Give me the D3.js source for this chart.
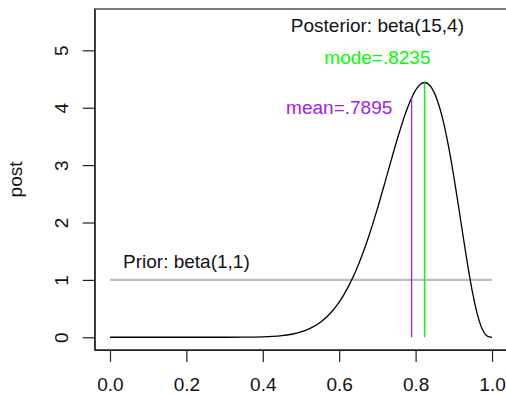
<!DOCTYPE html>
<html>
<head>
<meta charset="utf-8">
<script src="https://cdn.jsdelivr.net/npm/d3@7"></script>
<style>
  body { margin: 0; background: #fff; }
  svg { display: block; font-family: "Liberation Sans", Arial, sans-serif; }
</style>
</head>
<body>
<svg></svg>
<script>
// values
let thetaVals = [0, 0.1, 0.2, 0.3, 0.35, 0.4, 0.425, 0.45, 0.475, 0.5, 0.525, 0.55, 0.575, 0.6, 0.625, 0.65, 0.675,
    0.7, 0.725, 0.75, 0.775, 0.8, 0.8125, 0.8235, 0.8375, 0.85, 0.8625, 0.875, 0.8875, 0.9, 0.9125, 0.925,
    0.9375, 0.95, 0.9625, 0.975, 0.9875, 1.0];
let postVals = [0, 0, 0, 0.0002, 0.0014, 0.0071, 0.0146, 0.0285, 0.0528, 0.0934, 0.1584, 0.2585, 0.4056, 0.6138, 0.8958, 1.2614, 1.7129,
    2.2414, 2.822, 3.4077, 3.9307, 4.3065, 4.4094, 4.439, 4.387, 4.2454, 4.0121, 3.6871, 3.2781, 2.8001, 2.2754, 1.7336,
    1.2107, 0.7461, 0.378, 0.1342, 0.0201, 0];
let priorX = [0, 1];
let priorVals = [1, 1];
let meanVal = 0.7895, meanDens = 4.176;
let modeVal = 0.8235, modeDens = 4.439;
let xTicks = [0, 0.2, 0.4, 0.6, 0.8, 1.0];
let yTicks = [0, 1, 2, 3, 4, 5];

let width = 506;
let height = 394;
let fontSize = 19;

let svg = d3.select("svg").attr("width", width).attr("height", height);

// R style 4% extended limits
let xScale = d3.scaleLinear().domain([-0.04, 1.04]).range([94.7, 507.3]);
let yScale = d3.scaleLinear().domain([-0.22, 5.72]).range([349.9, 9]);

// box (right edge falls outside the window)
svg.append("rect")
    .attr("x", xScale(-0.04))
    .attr("y", yScale(5.72))
    .attr("width", xScale(1.04) - xScale(-0.04))
    .attr("height", yScale(-0.22) - yScale(5.72))
    .attr("fill", "none")
    .attr("stroke", "#222")
    .attr("stroke-width", 1.2);

let xAxis = d3.axisBottom(xScale).tickValues(xTicks).tickSize(12).tickSizeOuter(0)
    .tickFormat(d3.format(".1f"));
let yAxis = d3.axisLeft(yScale).tickValues(yTicks).tickSize(12).tickSizeOuter(0)
    .tickFormat(d3.format("d"));

let gx = svg.append("g")
    .attr("transform", "translate(0," + yScale(-0.22) + ")")
    .call(xAxis);
gx.selectAll("line").attr("stroke", "#222").attr("stroke-width", 1.2);
gx.select(".domain").attr("stroke", "#222").attr("stroke-width", 1.2);
gx.selectAll("text")
    .attr("font-size", fontSize)
    .attr("font-family", "Liberation Sans, Arial, sans-serif")
    .attr("fill", "#111")
    .attr("y", 41.5)
    .attr("dy", 0);

let gy = svg.append("g")
    .attr("transform", "translate(" + xScale(-0.04) + ",0)")
    .call(yAxis);
gy.selectAll("line").attr("stroke", "#222").attr("stroke-width", 1.2);
gy.select(".domain").attr("stroke", "#222").attr("stroke-width", 1.2);
gy.selectAll("text")
    .attr("font-size", fontSize)
    .attr("font-family", "Liberation Sans, Arial, sans-serif")
    .attr("fill", "#111")
    .attr("x", null).attr("dy", null)
    .attr("text-anchor", "middle")
    .attr("transform", "translate(-27,0) rotate(-90)");

// y label
svg.append("text")
    .attr("transform", "translate(22," + ((yScale(-0.22) + yScale(5.72)) / 2) + ") rotate(-90)")
    .attr("text-anchor", "middle")
    .attr("font-size", fontSize)
    .attr("fill", "#111")
    .text("post");

// prior line
let priorLine = d3.line().x((d, i) => xScale(priorX[i])).y(d => yScale(d));
svg.append("path")
    .datum(priorVals)
    .attr("d", priorLine)
    .attr("fill", "none")
    .attr("stroke", "#bebebe")
    .attr("stroke-width", 2.2);

// posterior curve
let postLine = d3.line()
    .x((d, i) => xScale(thetaVals[i]))
    .y(d => yScale(d))
    .curve(d3.curveMonotoneX);
svg.append("path")
    .datum(postVals)
    .attr("d", postLine)
    .attr("fill", "none")
    .attr("stroke", "#000")
    .attr("stroke-width", 1.3);

// mean and mode lines
svg.append("line")
    .attr("x1", xScale(meanVal)).attr("x2", xScale(meanVal))
    .attr("y1", yScale(0)).attr("y2", yScale(meanDens))
    .attr("stroke", "#a020f0").attr("stroke-width", 1.3);
svg.append("line")
    .attr("x1", xScale(modeVal)).attr("x2", xScale(modeVal))
    .attr("y1", yScale(0)).attr("y2", yScale(modeDens))
    .attr("stroke", "#00ff00").attr("stroke-width", 1.3);

// annotations
let notes = [
    {x: 0.7, text: "Posterior: beta(15,4)", color: "#111", base: 32},
    {x: 0.7, text: "mode=.8235", color: "#00ff00", base: 63.5},
    {x: 0.6, text: "mean=.7895", color: "#a020f0", base: 114},
    {x: 0.2, text: "Prior: beta(1,1)", color: "#111", base: 268}
];
svg.selectAll(".note")
    .data(notes)
    .enter()
    .append("text")
    .attr("class", "note")
    .attr("x", d => xScale(d.x))
    .attr("y", d => d.base)
    .attr("text-anchor", "middle")
    .attr("font-size", fontSize)
    .attr("fill", d => d.color)
    .text(d => d.text);
</script>
</body>
</html>
